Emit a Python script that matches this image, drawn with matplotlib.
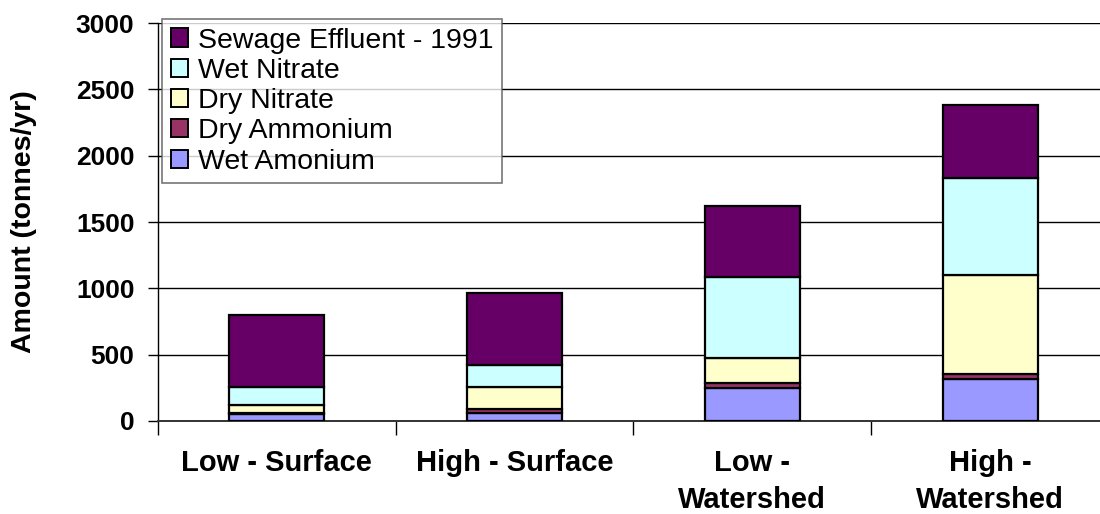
"""
Nitrogen loading stacked bar chart (Excel-style recreation).
"""
import matplotlib.pyplot as plt
import numpy as np

plt.rcParams['font.family'] = ['Liberation Sans', 'DejaVu Sans']

# --- Data (tonnes/yr) ---
categories = ['Low - Surface', 'High - Surface', 'Low -\nWatershed', 'High -\nWatershed']
wet_amonium   = [55, 62, 250, 313]
dry_ammonium  = [8, 26, 35, 43]
dry_nitrate   = [60, 167, 191, 747]
wet_nitrate   = [135, 168, 609, 730]
sewage_1991   = [542, 544, 532, 550]

series = [
    ('Wet Amonium',            wet_amonium,  '#9999ff'),
    ('Dry Ammonium',           dry_ammonium, '#993366'),
    ('Dry Nitrate',            dry_nitrate,  '#ffffcc'),
    ('Wet Nitrate',            wet_nitrate,  '#ccffff'),
    ('Sewage Effluent - 1991', sewage_1991,  '#660066'),
]

# --- Figure ---
fig = plt.figure(figsize=(11, 5.14), dpi=100)
# axes runs a little past the right edge, like the original export
ax = fig.add_axes([158 / 1100, 1 - 421 / 514, 951 / 1100, 398 / 514])

x = np.arange(len(categories))
bottom = np.zeros(len(categories))
handles = []
for name, vals, col in series:
    b = ax.bar(x, vals, width=0.40, bottom=bottom, color=col,
               edgecolor='black', linewidth=1.6, label=name, zorder=3)
    handles.append(b)
    bottom += np.array(vals)

ax.set_ylim(0, 3000)
ax.set_xlim(-0.5, 3.5)
ax.set_yticks(np.arange(0, 3001, 500))
ax.yaxis.grid(True, color='black', linewidth=1.0, zorder=0)
ax.set_axisbelow(True)

for s in ['top', 'right']:
    ax.spines[s].set_visible(False)
ax.spines['left'].set_linewidth(1.0)
ax.spines['bottom'].set_linewidth(1.4)
ax.spines['bottom'].set_color('#333333')

ax.tick_params(axis='y', length=7, width=1.0, pad=10, labelsize=19)
for lab in ax.get_yticklabels():
    lab.set_fontweight('bold')

# category labels centred, tick marks between categories
ax.set_xticks(x)
ax.set_xticklabels(categories, fontsize=21, fontweight='bold', linespacing=1.4)
ax.tick_params(axis='x', which='major', length=0, pad=20)
ax.set_xticks(np.arange(-0.5, 3.6, 1.0), minor=True)
ax.tick_params(axis='x', which='minor', length=10, width=1.0)

ax.set_ylabel('Amount (tonnes/yr)', fontsize=20.5, fontweight='bold')
ax.yaxis.set_label_coords(-0.127, 0.5)

leg = ax.legend(handles=handles[::-1], loc='upper left',
                bbox_to_anchor=(162 / 1100, 1 - 19 / 514),
                bbox_transform=fig.transFigure, fontsize=20.5,
                frameon=True, fancybox=False, shadow=False,
                handlelength=0.6, handleheight=0.6, handletextpad=0.35,
                labelspacing=0.15, borderpad=0.3, borderaxespad=0)
leg.get_frame().set_edgecolor('#555555')
leg.get_frame().set_linewidth(1.2)
for p in leg.get_patches():
    p.set_linewidth(1.4)

fig.savefig('out.png', dpi=100, facecolor='white')
